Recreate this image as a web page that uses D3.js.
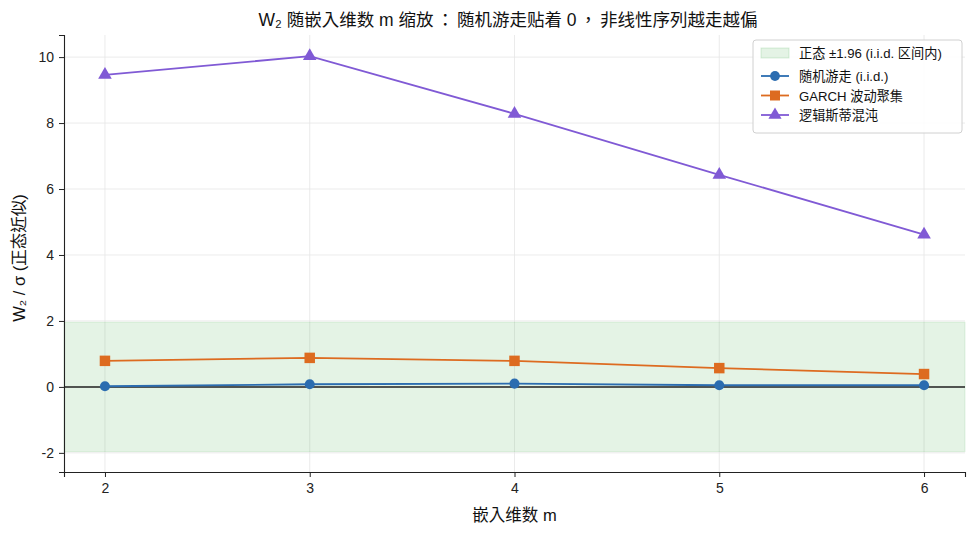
<!DOCTYPE html>
<html>
<head>
<meta charset="utf-8">
<script src="https://cdn.jsdelivr.net/npm/d3@7"></script>
<style>
body { margin: 0; background: #fff; }
text { font-family: "Liberation Sans", "Noto Sans CJK TC", sans-serif; }
</style>
</head>
<body>
<div id="chart"></div>
<script>
var dims = [2, 3, 4, 5, 6];
var randomWalk = [0.02, 0.08, 0.10, 0.05, 0.05];
var garch = [0.79, 0.88, 0.79, 0.57, 0.39];
var logistic = [9.46, 10.03, 8.28, 6.43, 4.62];
var yTicks = [-2, 0, 2, 4, 6, 8, 10];
var bandLimit = 1.96;
var titleParts = ["W₂ 随嵌入维数 m 缩放", "：", "随机游走贴着 0", "，", "非线性序列越走越偏"];

var w = 975, h = 535;
var margin = {top: 35, right: 10, bottom: 63, left: 64};

var svg = d3.select("#chart").append("svg")
    .attr("width", w)
    .attr("height", h);

var x = d3.scaleLinear().domain([1.8, 6.2]).range([margin.left, w - margin.right]);
var y = d3.scaleLinear().domain([-2.58, 10.67]).range([h - margin.bottom, margin.top]);

// grid
svg.append("g").selectAll("line")
    .data(dims).enter().append("line")
    .attr("x1", function(d) { return x(d); }).attr("x2", function(d) { return x(d); })
    .attr("y1", margin.top).attr("y2", h - margin.bottom)
    .attr("stroke", "#e6e6e6").attr("stroke-width", 0.8);
svg.append("g").selectAll("line")
    .data(yTicks).enter().append("line")
    .attr("x1", margin.left).attr("x2", w - margin.right)
    .attr("y1", function(d) { return y(d); }).attr("y2", function(d) { return y(d); })
    .attr("stroke", "#e6e6e6").attr("stroke-width", 0.8);

// normal band
svg.append("rect")
    .attr("x", margin.left)
    .attr("y", y(bandLimit))
    .attr("width", w - margin.right - margin.left)
    .attr("height", y(-bandLimit) - y(bandLimit))
    .attr("fill", "#4caf50").attr("fill-opacity", 0.15)
    .attr("stroke", "#4caf50").attr("stroke-opacity", 0.15);

// zero line
svg.append("line")
    .attr("x1", margin.left).attr("x2", w - margin.right)
    .attr("y1", y(0)).attr("y2", y(0))
    .attr("stroke", "#222").attr("stroke-width", 1.5);

var series = [
    {name: "随机游走 (i.i.d.)", values: randomWalk, color: "#2b6cb0", shape: d3.symbolCircle},
    {name: "GARCH 波动聚集", values: garch, color: "#dd6b20", shape: d3.symbolSquare},
    {name: "逻辑斯蒂混沌", values: logistic, color: "#805ad5", shape: d3.symbolTriangle}
];

var line = d3.line()
    .x(function(d, i) { return x(dims[i]); })
    .y(function(d) { return y(d); });

series.forEach(function(s) {
    svg.append("path")
        .attr("d", line(s.values))
        .attr("fill", "none")
        .attr("stroke", s.color)
        .attr("stroke-width", 1.8);
    svg.append("g").selectAll("path")
        .data(s.values).enter().append("path")
        .attr("transform", function(d, i) { return "translate(" + x(dims[i]) + "," + y(d) + ")"; })
        .attr("d", d3.symbol().type(s.shape).size(s.shape === d3.symbolSquare ? 110 : 80))
        .attr("fill", s.color);
});

// axes
var xAxis = svg.append("g")
    .attr("transform", "translate(0," + (h - margin.bottom) + ")")
    .call(d3.axisBottom(x).tickValues(dims).tickFormat(d3.format("d")).tickSizeOuter(0).tickSize(5).tickPadding(6));
var yAxis = svg.append("g")
    .attr("transform", "translate(" + margin.left + ",0)")
    .call(d3.axisLeft(y).tickValues(yTicks).tickFormat(d3.format("d")).tickSizeOuter(0).tickSize(5).tickPadding(5));
[xAxis, yAxis].forEach(function(a) {
    a.selectAll("text").attr("font-size", 14).attr("fill", "#222")
        .style("font-family", "'Liberation Sans', sans-serif");
    a.selectAll("line").attr("stroke", "#222");
    a.select(".domain").attr("stroke", "#222").attr("stroke-width", 1.1);
});
yAxis.selectAll(".tick text").text(function(d) { return d < 0 ? "-" + Math.abs(d) : d; });

// labels
var title = svg.append("text")
    .attr("x", 508).attr("y", 26)
    .attr("text-anchor", "middle")
    .attr("font-size", 17.5).attr("fill", "#111");
title.selectAll("tspan")
    .data(titleParts).enter().append("tspan")
    .attr("dx", function(d, i) { return i === 0 ? 0 : 3; })
    .text(function(d) { return d; });
svg.append("text")
    .attr("x", (margin.left + w - margin.right) / 2).attr("y", 521)
    .attr("text-anchor", "middle")
    .attr("font-size", 16.5).attr("fill", "#111")
    .text("嵌入维数 m");
svg.append("text")
    .attr("transform", "translate(25," + 258 + ") rotate(-90)")
    .attr("text-anchor", "middle")
    .attr("font-size", 16.5).attr("fill", "#111")
    .text("W₂ / σ (正态近似)");

// legend
var legend = svg.append("g").attr("transform", "translate(753,40)");
legend.append("rect")
    .attr("width", 209).attr("height", 93).attr("rx", 3)
    .attr("fill", "#fff").attr("fill-opacity", 0.85)
    .attr("stroke", "#d0d0d0");
legend.append("rect")
    .attr("x", 8).attr("y", 8).attr("width", 28).attr("height", 10)
    .attr("fill", "#4caf50").attr("fill-opacity", 0.15)
    .attr("stroke", "#4caf50").attr("stroke-opacity", 0.2);
legend.append("text")
    .attr("x", 46).attr("y", 18)
    .attr("font-size", 13.2).attr("fill", "#111")
    .text("正态 ±1.96 (i.i.d. 区间内)");
series.forEach(function(s, i) {
    var ly = 36 + i * 19.5;
    legend.append("line")
        .attr("x1", 8).attr("x2", 36).attr("y1", ly).attr("y2", ly)
        .attr("stroke", s.color).attr("stroke-width", 1.8);
    legend.append("path")
        .attr("transform", "translate(22," + ly + ")")
        .attr("d", d3.symbol().type(s.shape).size(s.shape === d3.symbolSquare ? 100 : 75))
        .attr("fill", s.color);
    legend.append("text")
        .attr("x", 46).attr("y", ly + 5)
        .attr("font-size", 13.2).attr("fill", "#111")
        .text(s.name);
});
</script>
</body>
</html>
